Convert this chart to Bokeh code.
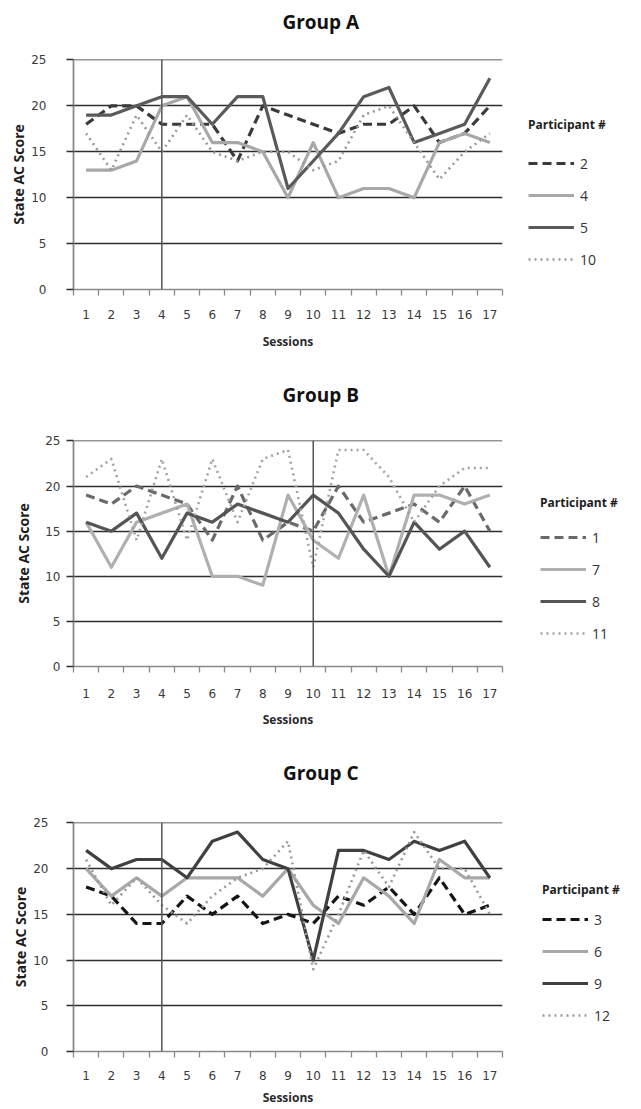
from bokeh.plotting import figure
from bokeh.models import Range1d, FixedTicker, Legend, LegendItem, Span, LinearAxis
from bokeh.layouts import column, row
from bokeh.embed import file_html
from bokeh.resources import INLINE

# ---------------- data ----------------
sessions = list(range(1, 18))
y_ticks = [0, 5, 10, 15, 20, 25]
legend_title = "Participant #"
x_label = "Sessions"
y_label = "State AC Score"

A_title = "Group A"
A_ids = ["2", "4", "5", "10"]
A_p2 = [18, 20, 20, 18, 18, 18, 14, 20, 19, 18, 17, 18, 18, 20, 16, 17, 20]
A_p4 = [13, 13, 14, 20, 21, 16, 16, 15, 10, 16, 10, 11, 11, 10, 16, 17, 16]
A_p5 = [19, 19, 20, 21, 21, 18, 21, 21, 11, 14, 17, 21, 22, 16, 17, 18, 23]
A_p10 = [17, 13, 19, 15, 19, 15, 14, 15, 15, 13, 14, 19, 20, 16, 12, 15, 17]
A_phase = 4

B_title = "Group B"
B_ids = ["1", "7", "8", "11"]
B_p1 = [19, 18, 20, 19, 18, 14, 20, 14, 16, 15, 20, 16, 17, 18, 16, 20, 15]
B_p7 = [16, 11, 16, 17, 18, 10, 10, 9, 19, 14, 12, 19, 10, 19, 19, 18, 19]
B_p8 = [16, 15, 17, 12, 17, 16, 18, 17, 16, 19, 17, 13, 10, 16, 13, 15, 11]
B_p11 = [21, 23, 14, 23, 14, 23, 16, 23, 24, 11, 24, 24, 21, 16, 20, 22, 22]
B_phase = 10

C_title = "Group C"
C_ids = ["3", "6", "9", "12"]
C_p3 = [18, 17, 14, 14, 17, 15, 17, 14, 15, 14, 17, 16, 18, 15, 19, 15, 16]
C_p6 = [20, 17, 19, 17, 19, 19, 19, 17, 20, 16, 14, 19, 17, 14, 21, 19, 19]
C_p9 = [22, 20, 21, 21, 19, 23, 24, 21, 20, 10, 22, 22, 21, 23, 22, 23, 19]
C_p12 = [21, 16, 19, 16, 14, 17, 19, 20, 23, 9, 15, 22, 18, 24, 20, 20, 15]
C_phase = 4

FONT = "Open Sans"
TICK_FONT = "DejaVu Sans"
MAIN_W = 506
LEG_W = 135
L = 73
R = 4
TITLE_X = 10.3   # horizontal centre of the group title, in session units

STYLES = [dict(line_dash="9 5", line_width=3.2),
          dict(line_dash="solid", line_width=3.2),
          dict(line_dash="solid", line_width=3.2),
          dict(line_dash="2 4", line_width=2.6)]


def make_panel(title, ids, series, colors, phase, g):
    p = figure(width=MAIN_W, height=g["h"],
               x_range=Range1d(0.5, 17.5), y_range=Range1d(0, 25.05),
               output_backend="svg", toolbar_location=None,
               min_border_left=L, min_border_right=R,
               min_border_top=g["t"], min_border_bottom=g["b"])
    p.outline_line_color = None
    p.xgrid.visible = False
    p.ygrid.ticker = FixedTicker(ticks=y_ticks[1:])
    p.ygrid.grid_line_color = "#2e2e2e"
    p.ygrid.grid_line_width = 1.6

    xa = p.below[0]
    ya = p.left[0]

    # x axis
    xa.ticker = FixedTicker(ticks=sessions,
                            minor_ticks=[s - 0.5 for s in sessions] + [sessions[-1] + 0.5])
    xa.major_tick_out = 0
    xa.major_tick_in = 0
    xa.minor_tick_out = 6
    xa.minor_tick_in = 0
    xa.minor_tick_line_color = "#8a8a8a"
    xa.minor_tick_line_width = 1.3
    xa.axis_line_color = "#8a8a8a"
    xa.axis_line_width = 1.6
    xa.major_label_text_font = TICK_FONT
    xa.major_label_text_font_size = "12px"
    xa.major_label_text_color = "#3a3a3a"
    xa.major_label_standoff = g["xls"]
    xa.axis_label = x_label
    xa.axis_label_text_font = FONT
    xa.axis_label_text_font_style = "bold"
    xa.axis_label_text_font_size = "12px"
    xa.axis_label_text_color = "#2a2a2a"
    xa.axis_label_standoff = g["xas"]

    # y axis
    ya.ticker = FixedTicker(ticks=y_ticks)
    ya.minor_tick_out = 0
    ya.minor_tick_in = 0
    ya.major_tick_out = 7
    ya.major_tick_in = 0
    ya.major_tick_line_color = "#2e2e2e"
    ya.major_tick_line_width = 1.6
    ya.axis_line_color = "#8a8a8a"
    ya.axis_line_width = 1.8
    ya.major_label_text_font = TICK_FONT
    ya.major_label_text_font_size = "12px"
    ya.major_label_text_color = "#3a3a3a"
    ya.major_label_standoff = g["yls"]
    ya.axis_label = y_label
    ya.axis_label_text_font = FONT
    ya.axis_label_text_font_style = "bold"
    ya.axis_label_text_font_size = "14px"
    ya.axis_label_text_color = "#1e1e1e"
    ya.axis_label_standoff = g["yas"]

    # group title, drawn as the single label of a bare top axis
    ta = LinearAxis(ticker=FixedTicker(ticks=[TITLE_X], minor_ticks=[]),
                    major_label_overrides={TITLE_X: title})
    ta.axis_line_color = None
    ta.major_tick_line_color = None
    ta.minor_tick_line_color = None
    ta.major_tick_out = 0
    ta.major_tick_in = 0
    ta.major_label_standoff = g["tst"]
    ta.major_label_text_font = FONT
    ta.major_label_text_font_style = "bold"
    ta.major_label_text_font_size = "19px"
    ta.major_label_text_color = "#111111"
    p.add_layout(ta, "above")

    # phase change line
    p.add_layout(Span(location=phase, dimension="height",
                      line_color="#555555", line_width=1.5))

    for vals, col, st in zip(series, colors, STYLES):
        p.line(sessions, vals, line_color=col, line_join="round", **st)

    # legend lives in its own small figure to the right; its line
    # renderers hold the same series but lie outside that figure's view
    q = figure(width=LEG_W, height=g["h"], x_range=Range1d(100, 101),
               y_range=Range1d(0, 25), output_backend="svg",
               toolbar_location=None, x_axis_location=None,
               y_axis_location=None, min_border=0)
    q.outline_line_color = None
    q.xgrid.visible = False
    q.ygrid.visible = False
    items = []
    for pid, vals, col, st in zip(ids, series, colors, STYLES):
        r = q.line(sessions, vals, line_color=col, **st)
        items.append(LegendItem(label=pid, renderers=[r]))
    leg = Legend(items=items, location=g["leg"],
                 title=legend_title, title_text_font=FONT,
                 title_text_font_style="bold", title_text_font_size="12px",
                 title_text_color="#1e1e1e", title_standoff=g["ts"],
                 label_text_font=FONT, label_text_font_size="14px",
                 label_text_color="#333333", label_standoff=6,
                 glyph_width=46, glyph_height=20, label_height=20,
                 spacing=12, padding=0, margin=0,
                 border_line_color=None, background_fill_alpha=0)
    q.add_layout(leg)
    return row(p, q, spacing=0)


pA = make_panel(A_title, A_ids, [A_p2, A_p4, A_p5, A_p10],
                ["#3a3a3a", "#a8a8a8", "#5a5a5a", "#9a9a9a"], A_phase,
                dict(h=365, t=59, b=76, xls=14, xas=11,
                     yls=20, yas=0, leg=(22, 20), ts=20, tst=25))
pB = make_panel(B_title, B_ids, [B_p1, B_p7, B_p8, B_p11],
                ["#6a6a6a", "#b0b0b0", "#555555", "#a3a3a3"], B_phase,
                dict(h=373, t=75, b=72, xls=16, xas=10,
                     yls=6, yas=9, leg=(34, 23), ts=16, tst=33))
pC = make_panel(C_title, C_ids, [C_p3, C_p6, C_p9, C_p12],
                ["#151515", "#a8a8a8", "#404040", "#9a9a9a"], C_phase,
                dict(h=370, t=84, b=57, xls=13, xas=6,
                     yls=18, yas=0, leg=(36, 26), ts=11, tst=37))

layout = column(pA, pB, pC, spacing=0)
open("out.html", "w").write(file_html(layout, INLINE))
